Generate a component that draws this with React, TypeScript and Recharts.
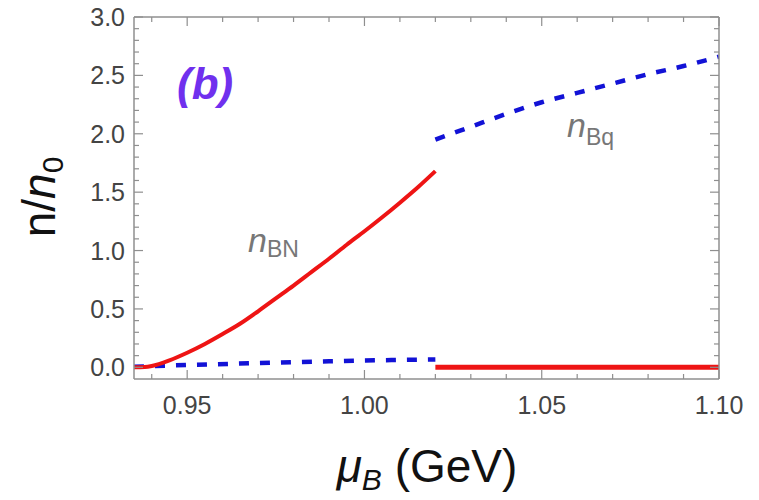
import React from 'react';
import { LineChart, Line, XAxis, YAxis } from 'recharts';

// n_BN (solid red), below and above the transition
const nbnMu = [0.935, 0.938, 0.94, 0.945, 0.95, 0.955, 0.96, 0.965, 0.97, 0.975, 0.98, 0.985, 0.99, 0.995, 1.0, 1.005, 1.01, 1.015, 1.02];
const nbnVal = [0, 0.003, 0.012, 0.06, 0.125, 0.2, 0.285, 0.375, 0.48, 0.59, 0.7, 0.815, 0.93, 1.05, 1.165, 1.285, 1.41, 1.54, 1.68];
const nbnHighMu = [1.02, 1.1];
const nbnHighVal = [0, 0];

// n_Bq (dashed blue)
const nbqLowMu = [0.935, 0.95, 0.97, 0.99, 1.02];
const nbqLowVal = [0.005, 0.02, 0.036, 0.052, 0.068];
const nbqHighMu = [1.02, 1.03, 1.04, 1.05, 1.06, 1.07, 1.08, 1.09, 1.1];
const nbqHighVal = [1.95, 2.06, 2.17, 2.27, 2.35, 2.43, 2.51, 2.58, 2.66];

// ticks
const xMajor = [0.95, 1.0, 1.05, 1.1];
const xMinor = [0.94, 0.96, 0.97, 0.98, 0.99, 1.01, 1.02, 1.03, 1.04, 1.06, 1.07, 1.08, 1.09];
const yMajor = [0, 0.5, 1.0, 1.5, 2.0, 2.5, 3.0];
const yMinor = [0.1, 0.2, 0.3, 0.4, 0.6, 0.7, 0.8, 0.9, 1.1, 1.2, 1.3, 1.4, 1.6, 1.7, 1.8, 1.9, 2.1, 2.2, 2.3, 2.4, 2.6, 2.7, 2.8, 2.9];

const xTicks = [...xMajor, ...xMinor].sort((a, b) => a - b);
const yTicks = [...yMajor, ...yMinor].sort((a, b) => a - b);

const pts = (xs: number[], ys: number[]) => xs.map((x, i) => ({ x, y: ys[i] }));

const FRAME = '#8f8f8f';
const LABEL = '#444';
const FONT = '"Liberation Sans", Arial, sans-serif';
const RED = '#ee1414';
const BLUE = '#1212d6';

const isMajor = (list: number[], v: number) => list.some((m) => Math.abs(m - v) < 1e-6);

const BottomTick = (props: any) => {
  const { x, y, payload } = props;
  const major = isMajor(xMajor, payload.value);
  return (
    <g>
      <line x1={x} x2={x} y1={y} y2={y - (major ? 9 : 5)} stroke={FRAME} strokeWidth={1.2} />
      {major && (
        <text x={x} y={y + 35} textAnchor="middle" fontSize={25} fill={LABEL} fontFamily={FONT}>
          {payload.value.toFixed(2)}
        </text>
      )}
    </g>
  );
};

const TopTick = (props: any) => {
  const { x, y, payload } = props;
  const major = isMajor(xMajor, payload.value);
  return <line x1={x} x2={x} y1={y} y2={y + (major ? 9 : 5)} stroke={FRAME} strokeWidth={1.2} />;
};

const LeftTick = (props: any) => {
  const { x, y, payload } = props;
  const major = isMajor(yMajor, payload.value);
  return (
    <g>
      <line x1={x} x2={x + (major ? 9 : 5)} y1={y} y2={y} stroke={FRAME} strokeWidth={1.2} />
      {major && (
        <text x={x - 9} y={y + 9} textAnchor="end" fontSize={25} fill={LABEL} fontFamily={FONT}>
          {payload.value.toFixed(1)}
        </text>
      )}
    </g>
  );
};

const RightTick = (props: any) => {
  const { x, y, payload } = props;
  const major = isMajor(yMajor, payload.value);
  return <line x1={x} x2={x - (major ? 9 : 5)} y1={y} y2={y} stroke={FRAME} strokeWidth={1.2} />;
};

export default function App() {
  const axisLine = { stroke: FRAME, strokeWidth: 1.5 };
  return (
    <div style={{ position: 'absolute', left: 0, top: 0, width: 759, height: 500, background: '#fff', fontFamily: FONT }}>
      <LineChart width={759} height={500} margin={{ top: 16, right: 39, bottom: 120, left: 133 }}>
        <XAxis type="number" dataKey="x" domain={[0.935, 1.1]} allowDataOverflow ticks={xTicks} interval={0}
          tickSize={0} tickMargin={0} height={1} axisLine={axisLine} tickLine={false} tick={BottomTick} />
        <XAxis xAxisId="top" orientation="top" type="number" dataKey="x" domain={[0.935, 1.1]} allowDataOverflow ticks={xTicks} interval={0}
          tickSize={0} tickMargin={0} height={1} axisLine={axisLine} tickLine={false} tick={TopTick} />
        <YAxis type="number" domain={[-0.1, 3.0]} allowDataOverflow ticks={yTicks} interval={0}
          tickSize={0} tickMargin={0} width={1} axisLine={axisLine} tickLine={false} tick={LeftTick} />
        <YAxis yAxisId="right" orientation="right" type="number" domain={[-0.1, 3.0]} allowDataOverflow ticks={yTicks} interval={0}
          tickSize={0} tickMargin={0} width={1} axisLine={axisLine} tickLine={false} tick={RightTick} />

        <Line data={pts(nbqLowMu, nbqLowVal)} dataKey="y" type="monotone" stroke={BLUE} strokeWidth={4.5}
          strokeDasharray="10 11" dot={false} isAnimationActive={false} />
        <Line data={pts(nbnMu, nbnVal)} dataKey="y" type="monotone" stroke={RED} strokeWidth={4}
          dot={false} isAnimationActive={false} />
        <Line data={pts(nbnHighMu, nbnHighVal)} dataKey="y" type="linear" stroke={RED} strokeWidth={5}
          dot={false} isAnimationActive={false} />
        <Line data={pts(nbqHighMu, nbqHighVal)} dataKey="y" type="monotone" stroke={BLUE} strokeWidth={4.5}
          strokeDasharray="10 11" dot={false} isAnimationActive={false} />
        {/* invisible series so the mirrored top/right axes get a scale */}
        <Line xAxisId="top" yAxisId="right" data={pts(nbqHighMu, nbqHighVal)} dataKey="y" stroke="none"
          dot={false} activeDot={false} isAnimationActive={false} legendType="none" />
      </LineChart>

      <svg width={759} height={500} style={{ position: 'absolute', left: 0, top: 0, pointerEvents: 'none' }} fontFamily={FONT}>
        <text x={177} y={99} fontSize={44} fontWeight="bold" fontStyle="italic" fill="#7030ee">(b)</text>
        <text x={248} y={252} fontSize={34} fontStyle="italic" fill="#777">
          n<tspan fontStyle="normal" fontSize={23} dy={5}>BN</tspan>
        </text>
        <text x={567} y={137} fontSize={34} fontStyle="italic" fill="#777">
          n<tspan fontStyle="normal" fontSize={23} dy={8}>Bq</tspan>
        </text>
        <text transform="translate(55,197) rotate(-90)" textAnchor="middle" fontSize={46} fill="#111">
          n/<tspan fontStyle="italic">n</tspan><tspan fontSize={30} dy={8}>0</tspan>
        </text>
        <text x={427} y={482} textAnchor="middle" fontSize={46} fill="#111">
          <tspan fontStyle="italic">μ</tspan><tspan fontStyle="italic" fontSize={30} dy={8}>B</tspan>
          <tspan dy={-8}> (GeV)</tspan>
        </text>
      </svg>
    </div>
  );
}
